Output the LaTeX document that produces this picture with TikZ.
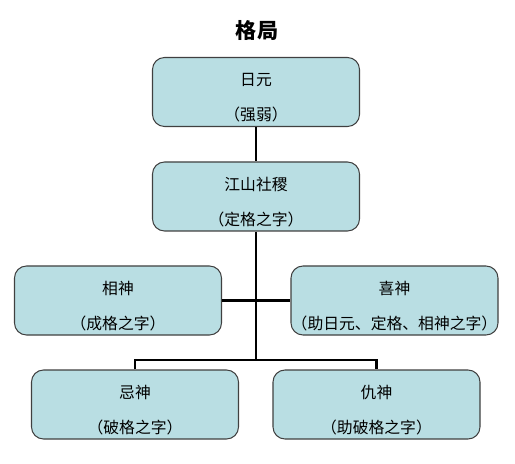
\documentclass[tikz,border=0pt]{standalone}
\usepackage{fontspec}
\usepackage{xcolor}
\usepackage{tikz}
\usetikzlibrary{positioning,calc}
\newfontfamily\cjk{Noto Sans CJK SC}
\definecolor{C_boxfill}{RGB}{185,222,227}
\definecolor{C_boxline}{RGB}{64,64,64}

\begin{document}
\begin{tikzpicture}[every node/.style={font=\cjk\fontsize{9}{20}\selectfont}]
  \tikzset{
    role/.style={rectangle, rounded corners=0.24cm, draw=C_boxline, fill=C_boxfill, line width=0.6pt, minimum width=4.14cm, minimum height=1.38cm, inner sep=0pt, align=center, text height=34pt, text depth=1.2pt},
    link/.style={line width=1.7pt, black}
  }
  \useasboundingbox (0,0) rectangle (10.30,9.26);

  \node[font=\cjk\bfseries\fontsize{12}{14}\selectfont] (title) at (5.14,8.66) {格局};
  \node[role] (riyuan) at (5.12,7.42) {日元\\（强弱）};
  \node[role] (sheji) at (5.12,5.33) {江山社稷\\（定格之字）};
  \node[role] (xiang) at (2.36,3.25) {相神\\（成格之字）};
  \node[role] (xi) at (7.89,3.25) {喜神\\（助日元、定格、相神之字）};
  \node[role] (ji) at (2.70,1.17) {忌神\\（破格之字）};
  \node[role] (chou) at (7.53,1.17) {仇神\\（助破格之字）};
  \coordinate (fork) at (sheji |- 0,2.06);

  \draw[link] (riyuan) -- (sheji);
  \draw[link] (sheji) -- (fork);
  \draw[link] (xiang) -- (xi);
  \draw[link] (ji) |- (fork) -| (chou);
\end{tikzpicture}
\end{document}
